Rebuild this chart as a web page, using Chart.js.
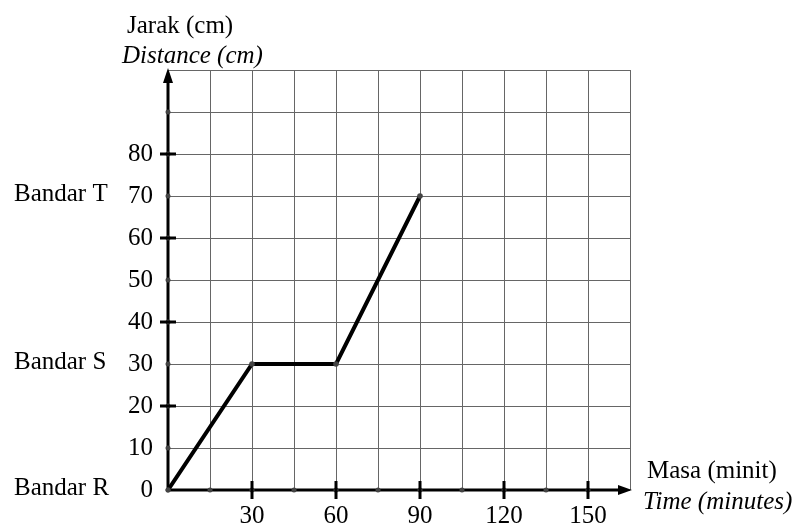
<!DOCTYPE html>
<html>
<head>
<meta charset="utf-8">
<script src="https://cdn.jsdelivr.net/npm/chart.js@4/dist/chart.umd.min.js"></script>
<style>
  html, body { margin: 0; padding: 0; background: #fff; }
  canvas { display: block; }
</style>
</head>
<body>
<canvas id="graf" width="809" height="527"></canvas>
<script>
// Graf jarak-masa: perjalanan dari Bandar R ke Bandar T

// data perjalanan
var masaMinit = [0, 30, 60, 90];
var jarakCm = [0, 30, 30, 70];

// label paksi
var labelMasa = [30, 60, 90, 120, 150];
var labelJarak = [0, 10, 20, 30, 40, 50, 60, 70, 80];
var tandaBesarX = [30, 60, 90, 120, 150];
var tandaBesarY = [20, 40, 60, 80];

// nama bandar pada paksi jarak
var namaBandar = ['Bandar R', 'Bandar S', 'Bandar T'];
var jarakBandar = [0, 30, 70];

var FONT = 'Liberation Serif, Times New Roman, serif';
var SAIZ = 25;

// plugin untuk paksi beranak panah, tanda, titik dan teks
var paksiPlugin = {
    id: 'paksi',
    afterDraw: function (chart) {
        var ctx = chart.ctx;
        var x = chart.scales.x, y = chart.scales.y;
        var x0 = x.getPixelForValue(0), y0 = y.getPixelForValue(0);
        var xHujung = x.getPixelForValue(x.max), yAtas = y.getPixelForValue(y.max);

        ctx.save();
        ctx.strokeStyle = '#000';
        ctx.fillStyle = '#000';
        ctx.lineWidth = 3;

        // paksi y
        ctx.beginPath();
        ctx.moveTo(x0, y0 + 1.5);
        ctx.lineTo(x0, yAtas + 10);
        ctx.stroke();
        ctx.beginPath();
        ctx.moveTo(x0, yAtas - 2);
        ctx.lineTo(x0 - 5, yAtas + 13);
        ctx.lineTo(x0 + 5, yAtas + 13);
        ctx.closePath();
        ctx.fill();

        // paksi x
        ctx.beginPath();
        ctx.moveTo(x0 - 1.5, y0);
        ctx.lineTo(xHujung - 10, y0);
        ctx.stroke();
        ctx.beginPath();
        ctx.moveTo(xHujung + 2, y0);
        ctx.lineTo(xHujung - 12, y0 - 5);
        ctx.lineTo(xHujung - 12, y0 + 5);
        ctx.closePath();
        ctx.fill();

        // titik kecil pada paksi
        ctx.fillStyle = '#444';
        x.ticks.forEach(function (t) {
            if (t.value >= x.max) return;
            ctx.beginPath();
            ctx.arc(x.getPixelForValue(t.value), y0, 2.5, 0, Math.PI * 2);
            ctx.fill();
        });
        y.ticks.forEach(function (t) {
            if (t.value >= y.max) return;
            ctx.beginPath();
            ctx.arc(x0, y.getPixelForValue(t.value), 2.5, 0, Math.PI * 2);
            ctx.fill();
        });

        // tanda besar
        ctx.strokeStyle = '#000';
        ctx.lineWidth = 3;
        tandaBesarX.forEach(function (v) {
            var px = x.getPixelForValue(v);
            ctx.beginPath();
            ctx.moveTo(px, y0 - 9);
            ctx.lineTo(px, y0 + 9);
            ctx.stroke();
        });
        tandaBesarY.forEach(function (v) {
            var py = y.getPixelForValue(v);
            ctx.beginPath();
            ctx.moveTo(x0 - 8, py);
            ctx.lineTo(x0 + 8, py);
            ctx.stroke();
        });

        // teks
        ctx.fillStyle = '#000';
        ctx.textAlign = 'left';
        ctx.textBaseline = 'alphabetic';
        ctx.font = SAIZ + 'px ' + FONT;
        ctx.fillText('Jarak (cm)', 127, 33);
        ctx.fillText('Masa (minit)', 647, 478);
        ctx.font = 'italic ' + SAIZ + 'px ' + FONT;
        ctx.fillText('Distance (cm)', 122, 63);
        ctx.fillText('Time (minutes)', 643, 509);

        ctx.font = SAIZ + 'px ' + FONT;
        ctx.textBaseline = 'middle';
        namaBandar.forEach(function (n, i) {
            ctx.fillText(n, 14, y.getPixelForValue(jarakBandar[i]) - 2);
        });
        ctx.restore();
    }
};

var ctx = document.getElementById('graf').getContext('2d');
var chart = new Chart(ctx, {
    type: 'line',
    data: {
        datasets: [{
            label: 'Jarak',
            data: masaMinit.map(function (m, i) { return { x: m, y: jarakCm[i] }; }),
            borderColor: '#000',
            borderWidth: 4,
            pointRadius: 2.8,
            pointBackgroundColor: '#444',
            pointBorderColor: '#444',
            pointBorderWidth: 0,
            tension: 0,
            fill: false
        }]
    },
    options: {
        responsive: false,
        animation: false,
        devicePixelRatio: 1,
        layout: { padding: { left: 0, right: 179, top: 70, bottom: 0 } },
        plugins: {
            legend: { display: false },
            tooltip: { enabled: false },
            title: { display: false }
        },
        scales: {
            x: {
                type: 'linear',
                min: 0,
                max: 165,
                afterFit: function (s) { s.height = 37; },
                border: { display: false },
                grid: { color: '#666', lineWidth: 1, drawTicks: false },
                ticks: {
                    stepSize: 15,
                    padding: 11,
                    maxRotation: 0,
                    autoSkip: false,
                    color: '#000',
                    font: { family: FONT, size: SAIZ },
                    callback: function (v) { return labelMasa.indexOf(v) >= 0 ? String(v) : ''; }
                }
            },
            y: {
                type: 'linear',
                min: 0,
                max: 100,
                afterFit: function (s) { s.width = 168; },
                border: { display: false },
                grid: { color: '#666', lineWidth: 1, drawTicks: false },
                ticks: {
                    stepSize: 10,
                    padding: 15,
                    autoSkip: false,
                    color: '#000',
                    font: { family: FONT, size: SAIZ },
                    callback: function (v) { return labelJarak.indexOf(v) >= 0 ? String(v) : ''; }
                }
            }
        }
    },
    plugins: [paksiPlugin]
});
</script>
</body>
</html>
